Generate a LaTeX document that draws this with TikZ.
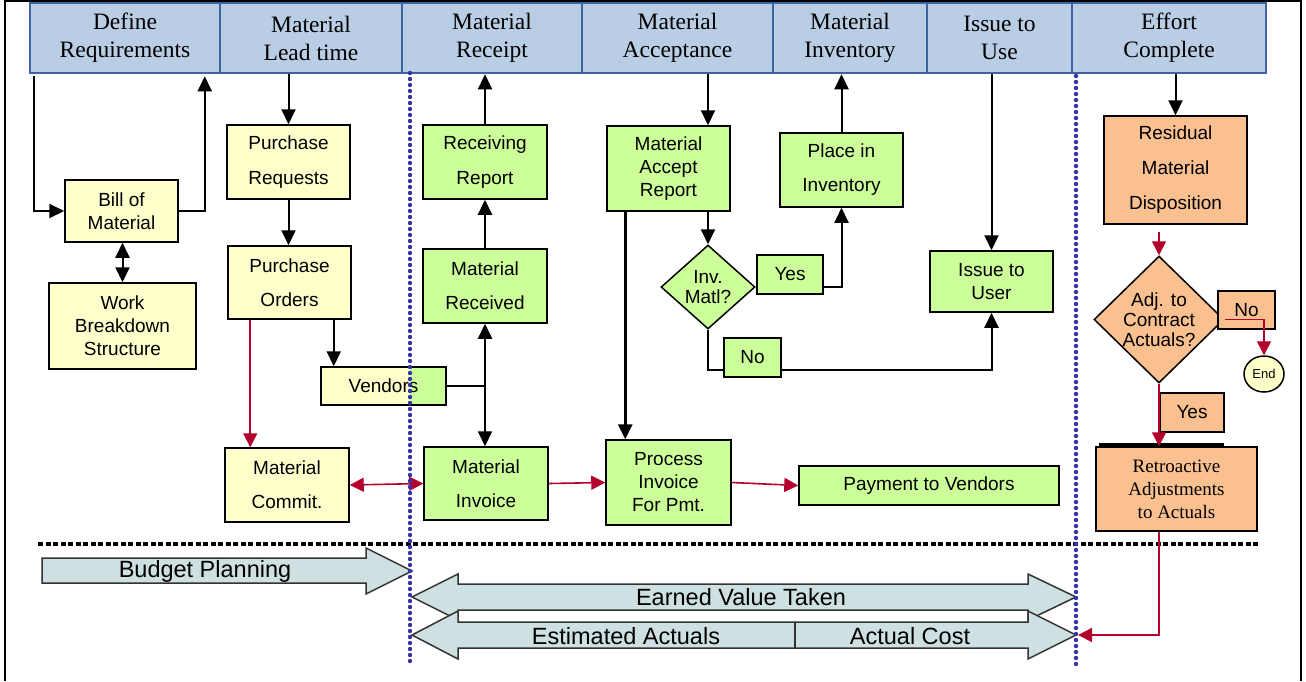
\documentclass[tikz,border=0pt]{standalone}
\usepackage{fontspec}
\setmainfont{Liberation Serif}
\setsansfont{Liberation Sans}
\usetikzlibrary{shapes.geometric,arrows.meta,calc,patterns}
\definecolor{hdrfill}{HTML}{B9CDE5}
\definecolor{hdrdraw}{HTML}{3B64A0}
\definecolor{yellowbox}{HTML}{FFFFCC}
\definecolor{greenbox}{HTML}{CCFF99}
\definecolor{orangebox}{HTML}{FAC08F}
\definecolor{redarrow}{HTML}{B4002C}
\definecolor{dotblue}{HTML}{3434A8}
\definecolor{barfill}{HTML}{CDE2E4}
\tikzstyle{hdr} = [draw=hdrdraw, line width=2.5pt, fill=hdrfill, inner sep=0pt,
  align=center, font=\rmfamily\fontsize{23.5}{28}\selectfont]
\tikzstyle{box} = [draw, line width=1.5pt, inner sep=0pt, align=center,
  font=\sffamily\fontsize{19}{23}\selectfont]
\tikzstyle{ybox} = [box, fill=yellowbox]
\tikzstyle{gbox} = [box, fill=greenbox]
\tikzstyle{obox} = [box, fill=orangebox]
\tikzstyle{diam} = [box, diamond, minimum width=94pt, minimum height=84pt]
\tikzstyle{dtext} = [align=center, inner sep=0pt, font=\sffamily\fontsize{19}{20}\selectfont]
\tikzstyle{line} = [draw, line width=2pt, -{Triangle[length=15pt,width=14pt]}]
\tikzstyle{dline} = [draw, line width=2pt, {Triangle[length=15pt,width=14pt]}-{Triangle[length=15pt,width=14pt]}]
\tikzstyle{rline} = [draw=redarrow, line width=1.6pt, -{Triangle[length=14pt,width=14pt]}]
\tikzstyle{bar} = [draw=black!80, line width=1.5pt, preaction={fill=barfill},
  pattern=crosshatch dots, pattern color=gray!30]
\tikzstyle{bartext} = [inner sep=0pt, font=\sffamily\fontsize{23.5}{28}\selectfont]
\tikzstyle{dotline} = [draw=dotblue, line width=4.4pt, line cap=round, dash pattern=on 0pt off 6pt]

\begin{document}
\begin{tikzpicture}[x=1pt, y=-1pt]
\useasboundingbox (0,0) rectangle (1306,681);
\draw [line width=1.5pt] (5,681) -- (5,1) -- (1301,1) -- (1301,681);
%% Header row
\node [hdr, minimum width=190pt, minimum height=70pt] (hdef) at (125,38) {Define\\Requirements};
\node [hdr, minimum width=182pt, minimum height=70pt] (hlead) at (311,38) {Material\\Lead time};
\node [hdr, minimum width=180pt, minimum height=70pt] (hrec) at (492,38) {Material\\Receipt};
\node [hdr, minimum width=191pt, minimum height=70pt] (hacc) at (677.5,38) {Material\\Acceptance};
\node [hdr, minimum width=154pt, minimum height=70pt] (hinv) at (850,38) {Material\\Inventory};
\node [hdr, minimum width=145pt, minimum height=70pt] (hiss) at (999.5,38) {Issue to\\Use};
\node [hdr, minimum width=194pt, minimum height=70pt] (heff) at (1169,38) {Effort\\Complete};
\coordinate (divA) at (410,73);
\coordinate (divAend) at (410,665);
\coordinate (divB) at (1076,76);
\coordinate (divBend) at (1076,665);
%% Boxes
\node [ybox, minimum width=113pt, minimum height=62pt] (bom) at (121.5,211) {Bill of\\Material};
\node [ybox, minimum width=147pt, minimum height=86pt] (wbs) at (122.5,326) {Work\\Breakdown\\Structure};
\node [ybox, minimum width=123pt, minimum height=74pt] (preq) at (288.5,162) {Purchase\\[12pt]Requests};
\node [ybox, minimum width=123pt, minimum height=73pt] (pord) at (289.5,282.5) {Purchase\\[11pt]Orders};
\node [ybox, minimum width=125pt, minimum height=38pt,
  path picture={\fill[greenbox] (path picture bounding box.north east)
  rectangle (path picture bounding box.south west -| divA);}] (vend) at (383.5,386) {Vendors};
\node [ybox, minimum width=124pt, minimum height=74pt] (mcom) at (287,485) {Material\\[11pt]Commit.};
\node [gbox, minimum width=124pt, minimum height=74pt] (rrep) at (485,162) {Receiving\\[12pt]Report};
\node [gbox, minimum width=124pt, minimum height=74pt] (mrec) at (485,286) {Material\\[11pt]Received};
\node [gbox, minimum width=124pt, minimum height=73pt] (minv) at (486,483.5) {Material\\[11pt]Invoice};
\node [gbox, minimum width=123pt, minimum height=85pt] (mar) at (668.5,168.5) {Material\\Accept\\Report};
\node [diam, fill=greenbox, label={[dtext]center:Inv.\\Matl?}] (inv) at (708,287) {};
\node [gbox, minimum width=66pt, minimum height=39pt] (yes1) at (790,274.5) {Yes};
\node [gbox, minimum width=57pt, minimum height=39pt] (no1) at (752.5,357.5) {No};
\node [gbox, minimum width=123pt, minimum height=74pt] (pii) at (841.5,170) {Place in\\[11pt]Inventory};
\node [gbox, minimum width=125pt, minimum height=85pt] (pinv) at (668.5,482.5) {Process\\Invoice\\For Pmt.};
\node [gbox, minimum width=260pt, minimum height=39pt] (pay) at (929,485.5) {Payment to Vendors};
\node [gbox, minimum width=123pt, minimum height=61pt] (iuser) at (991.5,281.5) {Issue to\\User};
\node [obox, minimum width=143pt, minimum height=108pt] (resid) at (1175.5,170) {Residual\\[12pt]Material\\[12pt]Disposition};
\node [diam, fill=orangebox, minimum width=130pt, minimum height=127pt,
  label={[dtext]center:Adj. to\\Contract\\Actuals?}] (adj) at (1159,319.5) {};
\node [obox, minimum width=57pt, minimum height=38pt] (no2) at (1246.5,310) {No};
\node [box, ellipse, fill=yellowbox, minimum width=40pt, minimum height=36pt,
  font=\sffamily\fontsize{13}{15}\selectfont] (endn) at (1264,374) {End};
\node [obox, minimum width=64pt, minimum height=39pt] (yes2) at (1192,412.5) {Yes};
\node [obox, minimum width=161pt, minimum height=84pt,
  font=\rmfamily\fontsize{19}{23}\selectfont] (retro) at (1176.5,489) {Retroactive\\Adjustments\\to Actuals};
\draw [line width=3pt] ($(retro.north west)+(4,-2)$) -- ($(retro.north east)+(-34,-2)$);
%% Arrows
\path [line] ($(hdef.south west)+(5,2)$) |- (bom.west);
\path [line] (bom.east) -| ($(hdef.south west)+(176,2)$);
\path [dline] (bom.south -| wbs.north) -- (wbs.north);
\path [line] (hlead.south -| preq.north) -- (preq.north);
\path [line] (preq.south) -- (preq.south |- pord.north);
\path [rline] ($(pord.south west)+(23,0)$) -- ($(pord.south west |- mcom.north)+(23,0)$);
\path [line] ($(pord.south east)+(-18,0)$) -- ($(pord.south east |- vend.north)+(-18,0)$);
\path [rline, {Triangle[length=14pt,width=14pt]}-{Triangle[length=14pt,width=14pt]}] (mcom.east) -- (minv.west);
\draw [line width=2pt] (vend.east) -- (vend.east -| mrec.south);
\path [dline] (mrec.south) -- (mrec.south |- minv.north);
\path [line] (mrec.north) -- (rrep.south);
\path [line] (rrep.north) -- (rrep.north |- hrec.south);
\path [line] (inv.north |- hacc.south) -- (inv.north |- mar.north);
\path [line, line width=3pt] ($(mar.south west)+(19,0)$) -- ($(mar.south west |- pinv.north)+(19,0)$);
\path [line] (mar.south -| inv.north) -- (inv.north);
\path [line] (yes1.east |- inv.east) -| (pii.south);
\path [line] (pii.north) -- (pii.north |- hinv.south);
\draw [line width=2pt] (inv.south) |- ($(no1.west)+(0,12)$);
\path [line] ($(no1.east)+(0,12)$) -| (iuser.south);
\path [line] (iuser.north |- hiss.south) -- (iuser.north);
\path [rline] (minv.east) -- (pinv.west);
\path [rline] (pinv.east) -- (pay.west);
\path [line] (resid.north |- heff.south) -- (resid.north);
\path [rline] ($(resid.south -| adj.north)+(0,7)$) -- (adj.north);
\path [rline] (adj.east) -| (endn.north);
\path [rline] (adj.south) -- (adj.south |- retro.north);
%% Budget bars
\draw [line width=4pt, dash pattern=on 5pt off 2.5pt] (38,544) -- (1258,544);
\draw [bar] (42,558) -- (366,558) -- (366,548) -- (412,571) -- (366,594) -- (366,583) -- (42,583) -- cycle;
\node [bartext] (budget) at (205,571) {Budget Planning};
\draw [bar] (412,597) -- (458,574) -- (458,584) -- (1028,584) -- (1028,574) -- (1076,597)
  -- (1028,620) -- (1028,610) -- (458,610) -- (458,620) -- cycle;
\node [bartext] (earned) at (741,597) {Earned Value Taken};
\draw [bar] (412,635) -- (458,611) -- (458,622) -- (1028,622) -- (1028,611) -- (1076,635)
  -- (1028,659) -- (1028,648) -- (458,648) -- (458,659) -- cycle;
\draw [line width=1.5pt, draw=black!80] (795,622) -- (795,648);
\coordinate (esttip) at (1078,635);
\node [bartext] (estim) at (626,636) {Estimated Actuals};
\node [bartext] (actual) at (910,636) {Actual Cost};
\path [rline] (retro.south -| adj.south) |- (esttip);
%% Dividers
\draw [dotline] (divA) -- (divAend);
\draw [dotline] (divB) -- (divBend);
\end{tikzpicture}
\end{document}
